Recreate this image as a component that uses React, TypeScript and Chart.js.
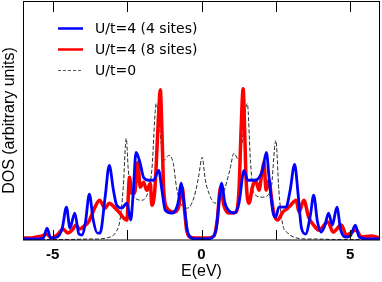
import React, { useEffect, useRef } from "react";
import { Chart, registerables } from "chart.js";
Chart.register(...registerables);

// U/t=4 (4 sites)
const e4 = [-6.0, -5.5, -5.32, -5.19, -5.07, -4.85, -4.68, -4.54, -4.42, -4.26, -4.12, -4.02, -3.9, -3.77, -3.64, -3.5, -3.41, -3.24, -3.1, -2.96, -2.85, -2.68, -2.51, -2.38, -2.3, -2.2, -2.06, -1.95, -1.78, -1.61, -1.44, -1.33, -1.22, -0.99, -0.84, -0.77, -0.69, -0.6, -0.48, -0.38, -0.2, 0, 0.2, 0.38, 0.5, 0.6, 0.68, 0.78, 0.9, 1.1, 1.26, 1.43, 1.55, 1.8, 2.05, 2.18, 2.28, 2.41, 2.5, 2.6, 2.84, 2.98, 3.13, 3.25, 3.36, 3.5, 3.66, 3.77, 3.9, 4.02, 4.15, 4.27, 4.4, 4.55, 4.68, 4.85, 5.0, 5.17, 5.3, 5.6, 6.0];
const dos4 = [1, 1, 2, 12, 2, 3, 12, 33, 12, 27, 6, 5, 18, 46, 20, 7, 7, 43, 75, 50, 35, 32, 37, 20, 45, 88, 77, 63, 60, 60, 70, 50, 30, 27, 32, 40, 57, 40, 10, 3, 1, 1, 1, 3, 12, 42, 57, 38, 30, 27, 37, 70, 60, 60, 70, 88, 60, 27, 23, 33, 33, 50, 76, 45, 12, 6, 25, 45, 18, 8, 15, 27, 15, 33, 10, 3, 4, 15, 3, 1, 1];

// U/t=4 (8 sites)
const e8 = [-6.0, -5.8, -5.55, -5.35, -5.2, -5.05, -4.85, -4.65, -4.5, -4.35, -4.22, -4.1, -3.95, -3.8, -3.65, -3.58, -3.43, -3.24, -3.1, -2.9, -2.74, -2.62, -2.51, -2.42, -2.35, -2.25, -2.14, -2.06, -1.95, -1.84, -1.72, -1.67, -1.57, -1.44, -1.385, -1.33, -1.27, -1.16, -0.93, -0.77, -0.65, -0.57, -0.5, -0.4, -0.2, 0, 0.2, 0.42, 0.53, 0.64, 0.75, 0.93, 1.16, 1.26, 1.33, 1.4, 1.46, 1.5, 1.6, 1.71, 1.82, 1.93, 2.03, 2.1, 2.17, 2.27, 2.35, 2.43, 2.56, 2.73, 2.9, 3.0, 3.18, 3.28, 3.44, 3.6, 3.77, 3.94, 4.25, 4.42, 4.7, 4.87, 5.2, 5.37, 5.7, 6.0];
const dos8 = [2, 2, 3, 4, 6, 2, 5, 11, 7, 10, 15, 11, 14, 18, 28, 33, 40, 32, 37, 32, 27, 22, 20, 63, 47, 47, 78, 53, 58, 50, 57, 35, 50, 127, 151, 110, 50, 32, 28, 33, 53, 30, 10, 3, 2, 2, 2, 4, 20, 53, 35, 27, 28, 50, 110, 152, 100, 60, 37, 53, 60, 50, 67, 78, 50, 60, 43, 27, 20, 28, 32, 35, 40, 28, 40, 23, 15, 10, 18, 8, 15, 5, 10, 3, 4, 2];

// U/t=0
const e0 = [-6, -4.5, -3.8, -3.5, -3.2, -3.0, -2.9, -2.74, -2.63, -2.53, -2.46, -2.35, -2.0, -1.78, -1.67, -1.52, -1.4, -1.27, -1.1, -0.95, -0.84, -0.7, -0.47, -0.25, -0.1, 0.02, 0.13, 0.25, 0.45, 0.73, 0.95, 1.09, 1.26, 1.54, 1.65, 1.76, 2.05, 2.33, 2.5, 2.6, 2.72, 2.9, 3.1, 3.5, 3.8, 4.5, 6];
const dos0 = [0.5, 0.5, 1, 1, 2, 4, 7, 20, 53, 102, 70, 47, 40, 50, 70, 137, 110, 80, 85, 77, 53, 37, 32, 43, 63, 83, 60, 47, 37, 47, 70, 87, 80, 137, 77, 47, 43, 50, 100, 50, 17, 7, 3, 1, 1, 0.5, 0.5];

const xTickLabels = [-5, 0, 5];
const xTickMarks = [-5, -2.5, 0, 2.5, 5];
const legendLabels = ["U/t=4 (4 sites)", "U/t=4 (8 sites)", "U/t=0"];

const FONT = "DejaVu Sans";
const FONT2 = "Liberation Sans";

export default function App() {
  const ref = useRef<HTMLCanvasElement>(null);
  useEffect(() => {
    document.body.style.margin = "0";
    const toXY = (xs: number[], ys: number[]) => xs.map((x, i) => ({ x, y: ys[i] }));
    const framePlugin = {
      id: "frame",
      afterDraw(chart: any) {
        const { ctx, chartArea: a, scales } = chart;
        const xs = scales.x;
        ctx.save();
        ctx.strokeStyle = "#000";
        ctx.lineWidth = 1;
        ctx.strokeRect(Math.round(a.left) + 0.5, Math.round(a.top) + 0.5, Math.round(a.right - a.left) - 1, Math.round(a.bottom - a.top) - 0.5);
        xTickMarks.forEach((v) => {
          const px = Math.round(xs.getPixelForValue(v)) + 0.5;
          ctx.beginPath();
          ctx.moveTo(px, a.bottom);
          ctx.lineTo(px, a.bottom - 10);
          ctx.moveTo(px, a.top);
          ctx.lineTo(px, a.top + 11);
          ctx.stroke();
        });
        // legend
        const rows = [
          { y: 28.5, color: "#0000ff", w: 2.5, dash: [] as number[] },
          { y: 49.5, color: "#ff0000", w: 2.5, dash: [] as number[] },
          { y: 70.5, color: "#555", w: 1, dash: [3, 2] },
        ];
        rows.forEach((r, i) => {
          ctx.beginPath();
          ctx.setLineDash(r.dash);
          ctx.strokeStyle = r.color;
          ctx.lineWidth = r.w;
          ctx.moveTo(58, r.y);
          ctx.lineTo(83, r.y);
          ctx.stroke();
          ctx.setLineDash([]);
          ctx.fillStyle = "#000";
          ctx.font = `14px "${FONT}"`;
          ctx.textBaseline = "middle";
          ctx.textAlign = "left";
          ctx.fillText(legendLabels[i], 95, r.y + 0.5);
        });
        ctx.restore();
      },
    };
    const chart = new Chart(ref.current!, {
      type: "line",
      data: {
        datasets: [
          {
            label: legendLabels[0],
            data: toXY(e4, dos4),
            borderColor: "#0000ff",
            borderWidth: 2.8,
            pointRadius: 0,
            cubicInterpolationMode: "monotone",
          },
          {
            label: legendLabels[1],
            data: toXY(e8, dos8),
            borderColor: "#ff0000",
            borderWidth: 3.5,
            pointRadius: 0,
            cubicInterpolationMode: "monotone",
          },
          {
            label: legendLabels[2],
            data: toXY(e0, dos0),
            borderColor: "#2a2a2a",
            borderWidth: 1,
            borderDash: [4, 2],
            pointRadius: 0,
            cubicInterpolationMode: "monotone",
          },
        ],
      },
      options: {
        responsive: false,
        animation: false,
        events: [],
        layout: { padding: { top: 1, right: 2, left: 0, bottom: 0 } },
        plugins: { legend: { display: false }, tooltip: { enabled: false } },
        scales: {
          x: {
            type: "linear",
            min: -6,
            max: 6,
            afterBuildTicks: (s: any) => {
              s.ticks = xTickLabels.map((v) => ({ value: v }));
            },
            afterFit: (s: any) => {
              s.height = 42;
            },
            grid: { display: false, drawTicks: false },
            border: { display: false },
            ticks: { color: "#000", font: { family: FONT2, size: 15, weight: "bold" }, padding: 6, maxRotation: 0 },
            title: {
              display: true,
              text: "E(eV)",
              color: "#000",
              font: { family: FONT2, size: 16 },
              padding: { top: 0, bottom: 1 },
            },
          },
          y: {
            min: 0,
            max: 240,
            afterFit: (s: any) => {
              s.width = 23;
            },
            ticks: { display: false },
            grid: { display: false, drawTicks: false },
            border: { display: false },
            title: {
              display: true,
              text: "DOS (arbitrary units)",
              color: "#000",
              font: { family: FONT2, size: 16 },
              padding: 0,
            },
          },
        },
      },
      plugins: [framePlugin],
    } as any);
    return () => chart.destroy();
  }, []);
  return <canvas ref={ref} width={382} height={282} style={{ display: "block" }} />;
}
